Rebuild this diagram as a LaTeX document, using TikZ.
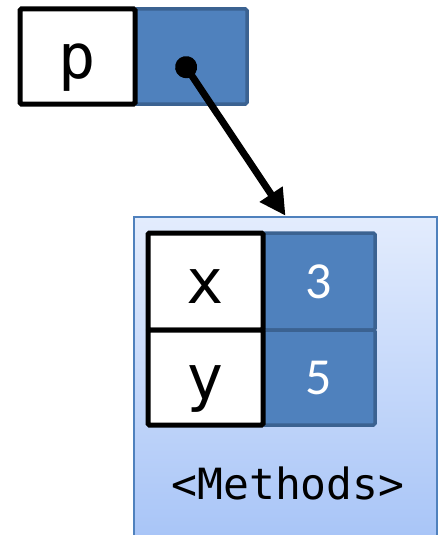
\documentclass[tikz,border=0pt]{standalone}
\usepackage{fontspec}
\newfontfamily\codefont{DejaVu Sans Mono}
\newfontfamily\numfont{Carlito}
\usetikzlibrary{arrows.meta}
\definecolor{cellblue}{HTML}{4F81BD}
\definecolor{celledge}{HTML}{3B6291}
\definecolor{objtop}{HTML}{E3ECFD}
\definecolor{objbot}{HTML}{A7C4F7}
\begin{document}
\begin{tikzpicture}[x=1pt,y=-1pt,
    namecell/.style={draw=black,line width=5pt,fill=white,rounded corners=1.5pt,
      minimum width=115pt,inner sep=0pt,text height=43pt,text depth=0pt,
      font=\codefont\fontsize{62}{62}\selectfont},
    valcell/.style={draw=celledge,line width=3.5pt,fill=cellblue,rounded corners=1.5pt,
      minimum width=112pt,inner sep=0pt,text height=33pt,text depth=0pt,text=white,
      font=\numfont\fontsize{52}{52}\selectfont},
    objbox/.style={draw=cellblue,line width=2.5pt,top color=objtop,bottom color=objbot,
      minimum width=303pt,minimum height=328pt,inner sep=0pt},
    ptr/.style={line width=7pt,{Circle[length=22pt]}-{Triangle[length=26pt,width=26pt]}}]
  \useasboundingbox (0,0) rectangle (438,535);
  \clip (0,0) rectangle (438,535);
  % object
  \node[objbox] (obj) at (285.5,381) {};
  \node[valcell,minimum height=97pt] (xval) at (319,281.5) {3};
  \node[valcell,minimum height=95pt] (yval) at (319,377.5) {5};
  \node[namecell,minimum height=97pt] (xname) at (205.5,281.5) {x};
  \node[namecell,minimum height=95pt] (yname) at (205.5,377.5) {y};
  \node[font=\codefont\fontsize{43}{43}\selectfont] (methods) at (288,483) {<Methods>};
  % reference variable
  \node[valcell,minimum height=95pt] (pval) at (191,56.5) {};
  \node[namecell,minimum height=95pt] (pname) at (77.5,56.5) {p};
  \draw[ptr] (180,58) -- (obj.north);
\end{tikzpicture}
\end{document}
